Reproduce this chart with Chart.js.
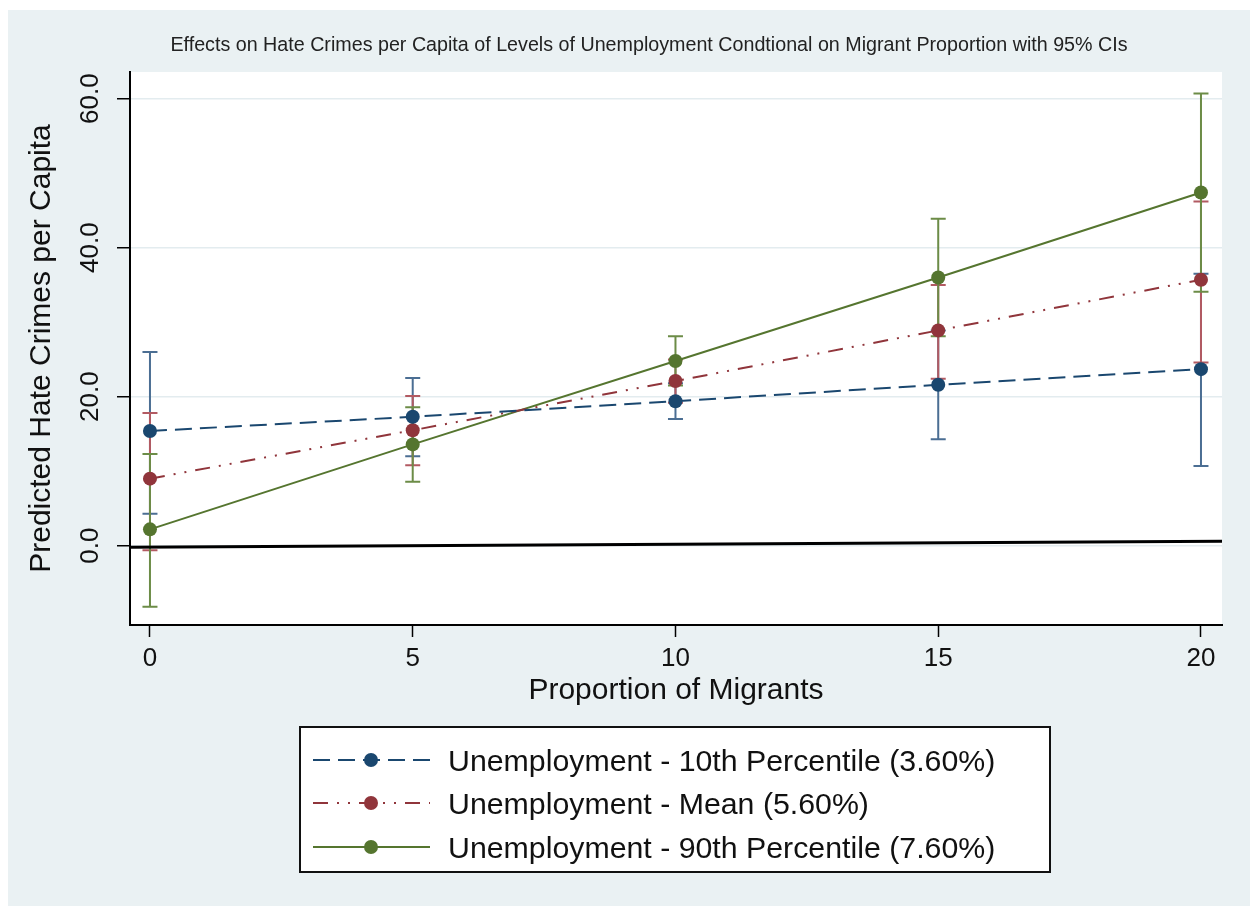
<!DOCTYPE html>
<html>
<head>
<meta charset="utf-8">
<title>Hate crimes and unemployment</title>
<script src="https://cdn.jsdelivr.net/npm/chart.js@4.4.0/dist/chart.umd.min.js"></script>
<style>
  html, body { margin: 0; padding: 0; background: #fff; }
  canvas { display: block; }
</style>
</head>
<body>
<canvas id="hateChart" width="1250" height="912"></canvas>
<script>
const chartTitle = "Effects on Hate Crimes per Capita of Levels of Unemployment Condtional on Migrant Proportion with 95% CIs";
const xTitle = "Proportion of Migrants";
const yTitle = "Predicted Hate Crimes per Capita";

const migrantShare = [0, 5, 10, 15, 20];
const yTicks = [0, 20, 40, 60];

const seriesNames = [
  "Unemployment - 10th Percentile (3.60%)",
  "Unemployment - Mean (5.60%)",
  "Unemployment - 90th Percentile (7.60%)"
];

// predicted values and 95% CI bounds
const predP10 = [15.4, 17.3, 19.4, 21.6, 23.7];
const lowP10  = [4.3, 12.0, 17.0, 14.3, 10.7];
const highP10 = [26.0, 22.5, 21.8, 28.9, 36.5];

const predMean = [9.0, 15.5, 22.1, 28.9, 35.7];
const lowMean  = [-0.6, 10.8, 19.2, 22.4, 24.6];
const highMean = [17.8, 20.1, 25.0, 35.0, 46.2];

const predP90 = [2.2, 13.6, 24.8, 36.0, 47.4];
const lowP90  = [-8.2, 8.6, 21.5, 28.1, 34.1];
const highP90 = [12.3, 18.6, 28.1, 43.9, 60.7];

// black reference line across the plot
const refLineX = [-0.38, 20.4];
const refLineY = [-0.2, 0.6];

const lineColors = ["#1a476f", "#90353b", "#55752f"];
const barColors = ["#4b6e93", "#b25a62", "#6c8c47"];
const dashes = [[17, 8], [15, 9, 2, 9, 2, 9], []];
const FONT = "'Liberation Sans', Arial, sans-serif";

function pts(xs, ys) {
  return xs.map((x, i) => ({ x: x, y: ys[i] }));
}

const ciLow = [lowP10, lowMean, lowP90];
const ciHigh = [highP10, highMean, highP90];

const datasets = [predP10, predMean, predP90].map((vals, i) => ({
  label: seriesNames[i],
  data: pts(migrantShare, vals),
  borderColor: lineColors[i],
  backgroundColor: lineColors[i],
  borderWidth: 2,
  borderDash: dashes[i],
  pointRadius: 7,
  pointBorderWidth: 0,
  pointBackgroundColor: lineColors[i],
  tension: 0,
  fill: false
}));
datasets.push({
  label: "ref",
  data: pts(refLineX, refLineY),
  borderColor: "#000",
  borderWidth: 3,
  pointRadius: 0,
  fill: false
});

const backdrop = {
  id: "backdrop",
  beforeDraw(chart) {
    const { ctx, chartArea: a } = chart;
    ctx.save();
    ctx.fillStyle = "#fff";
    ctx.fillRect(0, 0, chart.width, chart.height);
    ctx.fillStyle = "#eaf1f3";
    ctx.fillRect(8, 10, chart.width - 8, 896);
    ctx.fillStyle = "#fff";
    ctx.fillRect(a.left, a.top, a.right - a.left, a.bottom - a.top);
    ctx.restore();
  }
};

const errorBars = {
  id: "errorBars",
  beforeDatasetsDraw(chart) {
    const { ctx } = chart;
    const xs = chart.scales.x, ys = chart.scales.y;
    ctx.save();
    ctx.lineWidth = 2;
    for (let s = 0; s < 3; s++) {
      ctx.strokeStyle = barColors[s];
      migrantShare.forEach((xv, i) => {
        const px = xs.getPixelForValue(xv);
        const lo = ys.getPixelForValue(ciLow[s][i]);
        const hi = ys.getPixelForValue(ciHigh[s][i]);
        ctx.beginPath();
        ctx.moveTo(px, lo); ctx.lineTo(px, hi);
        ctx.moveTo(px - 7.5, lo); ctx.lineTo(px + 7.5, lo);
        ctx.moveTo(px - 7.5, hi); ctx.lineTo(px + 7.5, hi);
        ctx.stroke();
      });
    }
    ctx.restore();
  }
};

const decorations = {
  id: "decorations",
  afterDraw(chart) {
    const { ctx } = chart;
    ctx.save();
    // title
    ctx.fillStyle = "#222";
    ctx.font = "19.7px " + FONT;
    ctx.textAlign = "center";
    ctx.textBaseline = "alphabetic";
    ctx.fillText(chartTitle, 649, 51);

    // legend box
    ctx.fillStyle = "#fff";
    ctx.fillRect(300, 727, 750, 145);
    ctx.strokeStyle = "#111";
    ctx.lineWidth = 2;
    ctx.strokeRect(300, 727, 750, 145);
    const rows = [760, 803, 847];
    rows.forEach((cy, i) => {
      ctx.strokeStyle = lineColors[i];
      ctx.lineWidth = 2;
      ctx.setLineDash(dashes[i]);
      ctx.beginPath();
      ctx.moveTo(313, cy); ctx.lineTo(430, cy);
      ctx.stroke();
      ctx.setLineDash([]);
      ctx.fillStyle = lineColors[i];
      ctx.beginPath();
      ctx.arc(371, cy, 7, 0, Math.PI * 2);
      ctx.fill();
      ctx.fillStyle = "#111";
      ctx.font = "30.3px " + FONT;
      ctx.textAlign = "left";
      ctx.fillText(seriesNames[i], 448, cy + 11);
    });
    ctx.restore();
  }
};

new Chart(document.getElementById("hateChart"), {
  type: "line",
  data: { datasets: datasets },
  options: {
    responsive: false,
    animation: false,
    devicePixelRatio: 1,
    layout: { padding: { left: 8, top: 72, right: 28, bottom: 203 } },
    plugins: {
      legend: { display: false },
      title: { display: false },
      tooltip: { enabled: false }
    },
    scales: {
      x: {
        type: "linear",
        min: -0.38,
        max: 20.4,
        afterBuildTicks: s => { s.ticks = migrantShare.map(v => ({ value: v })); },
        afterFit: s => { s.height = 84; },
        grid: { drawOnChartArea: false, drawTicks: true, tickLength: 12, tickColor: "#000", tickWidth: 1.5 },
        border: { color: "#000", width: 2 },
        ticks: { font: { family: FONT, size: 26 }, color: "#111", padding: 6, maxRotation: 0 },
        title: { display: true, text: xTitle, color: "#111", font: { family: FONT, size: 30 }, padding: { top: 0, bottom: 0 } }
      },
      y: {
        type: "linear",
        min: -10.64,
        max: 63.58,
        afterBuildTicks: s => { s.ticks = yTicks.map(v => ({ value: v })); },
        afterFit: s => { s.width = 122; },
        grid: { color: "#e3ecef", lineWidth: 1.5, drawTicks: true, tickLength: 13, tickColor: "#000", tickWidth: 1.5 },
        border: { color: "#000", width: 2 },
        ticks: {
          font: { family: FONT, size: 26 }, color: "#111", padding: 1,
          minRotation: 90, maxRotation: 90, crossAlign: "center",
          callback: v => v.toFixed(1)
        },
        title: { display: true, text: yTitle, color: "#111", font: { family: FONT, size: 30 }, padding: { top: 16, bottom: 0 } }
      }
    }
  },
  plugins: [backdrop, errorBars, decorations]
});
</script>
</body>
</html>
